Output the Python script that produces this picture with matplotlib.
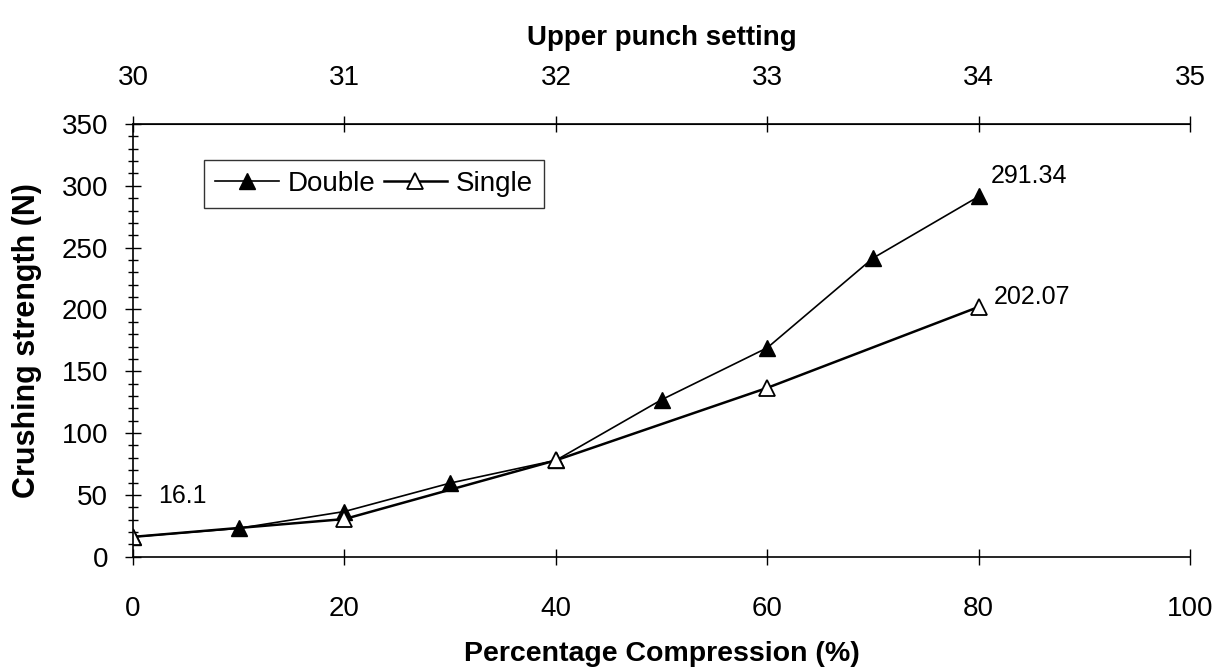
import matplotlib.pyplot as plt
from matplotlib.ticker import MultipleLocator

plt.rcParams['font.family'] = ['Liberation Sans', 'DejaVu Sans']

# percentage compression
x_double = [0, 10, 20, 30, 40, 50, 60, 70, 80]
y_double = [16.1, 23, 36.6, 59.6, 78, 127, 169, 241.5, 291.34]

x_single = [0, 20, 40, 60, 80]
y_single = [16.1, 30.5, 78, 136.6, 202.07]

punch = [30, 31, 32, 33, 34, 35]

fig = plt.figure(figsize=(12.21, 6.70), dpi=100)
ax = fig.add_axes([0.109, 0.169, 0.8657, 0.646])

ax.plot(x_double, y_double, color='black', lw=1.2, marker='^', ms=12,
        mfc='black', mec='black', label='Double')
ax.plot(x_single, y_single, color='black', lw=1.8, marker='^', ms=12,
        mfc='white', mec='black', mew=1.3, label='Single')

ax.set_xlim(0, 100)
ax.set_ylim(0, 350)
ax.set_xticks([0, 20, 40, 60, 80, 100])
ax.set_yticks(range(0, 351, 50))
ax.yaxis.set_minor_locator(MultipleLocator(10))
ax.tick_params(axis='both', which='major', direction='inout', length=12,
               width=1, labelsize=20)
ax.tick_params(axis='x', pad=22)
ax.tick_params(axis='y', pad=12)
ax.tick_params(axis='y', which='minor', direction='inout', length=7, width=1)
ax.spines['right'].set_visible(False)
for s in ['left', 'bottom', 'top']:
    ax.spines[s].set_linewidth(1.2)

ax.set_xlabel('Percentage Compression (%)', fontsize=20.5, fontweight='bold', labelpad=14)
ax.set_ylabel('Crushing strength (N)', fontsize=22, fontweight='bold', labelpad=14)

top = ax.secondary_xaxis('top', functions=(lambda v: 30 + v / 20, lambda p: (p - 30) * 20))
top.set_xticks(punch)
top.tick_params(direction='inout', length=12, width=1, labelsize=20, pad=18)
top.set_xlabel('Upper punch setting', fontsize=20, fontweight='bold', labelpad=14)

ax.annotate('291.34', (x_double[-1], y_double[-1]), xytext=(8.6, 14.4),
            textcoords='offset points', fontsize=18, va='center')
ax.annotate('202.07', (x_single[-1], y_single[-1]), xytext=(10.8, 7.2),
            textcoords='offset points', fontsize=18, va='center')
ax.annotate('16.1', (x_double[0], y_double[0]), xytext=(18, 29.5),
            textcoords='offset points', fontsize=18, va='center')

leg = ax.legend(loc='upper left', bbox_to_anchor=(0.0672, 0.917), ncol=2, fontsize=20,
                frameon=True, fancybox=False, edgecolor='black', handlelength=2.3,
                columnspacing=0.3, handletextpad=0.3, borderpad=0.4,
                borderaxespad=0)
leg.get_frame().set_linewidth(1)

fig.savefig('out.png', dpi=100)
